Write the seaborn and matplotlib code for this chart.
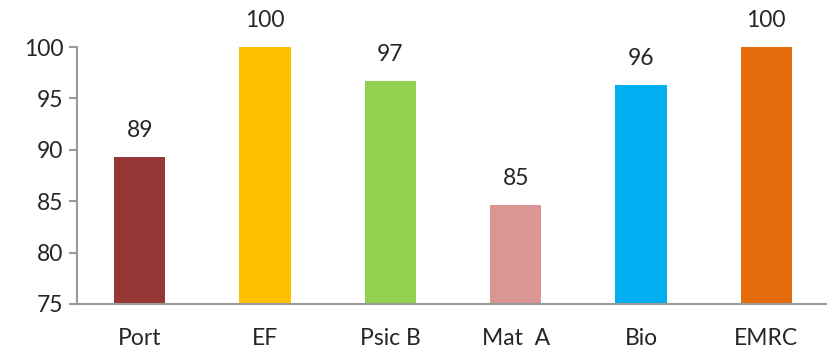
import matplotlib
matplotlib.use("Agg")
import matplotlib.pyplot as plt
import numpy as np
import pandas as pd
import seaborn as sns

# data
subjects = ["Port", "EF", "Psic B", "Mat  A", "Bio", "EMRC"]
scores = [89.3, 100.0, 96.7, 84.6, 96.3, 100.0]
colors = ["#953735", "#FFC000", "#92D050", "#D99694", "#00B0F0", "#E46C0A"]

df = pd.DataFrame({"subject": subjects, "score": scores})

sns.set_style("white")
plt.rcParams["font.family"] = ["Lato", "DejaVu Sans"]

fig = plt.figure(figsize=(8.28, 3.51), dpi=100)
ax = fig.add_axes([77 / 828, 1 - 304 / 351, 752 / 828, 257 / 351])

sns.barplot(data=df, x="subject", y="score", hue="subject", palette=colors,
            legend=False, width=0.41, saturation=1, linewidth=0, ax=ax)

ax.set_ylim(75, 100)
ax.set_xlim(-0.5, len(subjects) - 0.5)
ax.set_yticks([75, 80, 85, 90, 95, 100])
ax.set_xlabel("")
ax.set_ylabel("")

# value labels above the bars
for i, v in enumerate(scores):
    ax.annotate(f"{v:.0f}", (i, v), xytext=(0, 19), textcoords="offset points",
                ha="center", va="center", fontsize=16.5, clip_on=False)

axis_grey = "#9a9a9a"
for side in ["top", "right"]:
    ax.spines[side].set_visible(False)
for side in ["left", "bottom"]:
    ax.spines[side].set_color(axis_grey)
    ax.spines[side].set_linewidth(1.5)

# category boundary ticks on x axis
ax.set_xticks(np.arange(-0.5, len(subjects), 1.0), minor=True)
ax.tick_params(axis="x", which="major", length=0, pad=17, labelsize=16.5)
ax.tick_params(axis="x", which="minor", length=6, width=1.5, color=axis_grey, direction="out")
ax.tick_params(axis="y", length=6, width=1.5, color=axis_grey, direction="out",
               labelsize=16.5, pad=4, left=True)

plt.savefig("out.png", dpi=100)
